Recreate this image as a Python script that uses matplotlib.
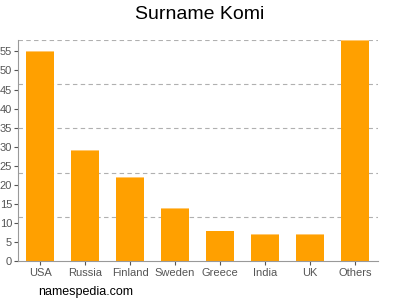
import matplotlib
matplotlib.use('Agg')
import matplotlib.pyplot as plt
import numpy as np

countries = ['USA', 'Russia', 'Finland', 'Sweden', 'Greece', 'India', 'UK', 'Others']
counts = [55, 29, 22, 14, 8, 7, 7, 58]
yticks = list(range(0, 60, 5))

plt.rcParams['font.family'] = ['Liberation Sans', 'DejaVu Sans']

fig = plt.figure(figsize=(4, 3), dpi=100)
ax = fig.add_axes([0.044, 0.13, 0.9, 0.7367])

x = np.arange(len(countries))
ax.bar(x, counts, width=0.62, color='#FFA000', zorder=2)
ax.bar(x, [0.25] * len(counts), bottom=np.array(counts) - 0.25, width=0.62,
       color='#FFC870', zorder=3)

ax.set_xlim(-0.5, len(countries) - 0.5)
ax.set_ylim(0, 58)
ax.set_yticks(yticks)
ax.set_yticks([58 / 5 * k for k in range(1, 6)], minor=True)
ax.grid(which='minor', axis='y', color='#b0b0b0', linestyle=(0, (4, 3)), linewidth=0.8, zorder=0)
ax.tick_params(axis='y', which='minor', length=0)
ax.tick_params(axis='y', which='major', labelsize=8, colors='#555555', length=3, pad=1)
ax.tick_params(axis='x', labelsize=8, colors='#555555', length=3, pad=2)
ax.set_xticks(x)
ax.set_xticklabels(countries)

for s in ['top', 'right']:
    ax.spines[s].set_visible(False)
for s in ['left', 'bottom']:
    ax.spines[s].set_color('#999999')

fig.text(0.5, 0.953, 'Surname Komi', ha='center', va='center', fontsize=14)
fig.text(0.095, 0.027, 'namespedia.com', ha='left', va='center', fontsize=9)

fig.savefig('out.png', dpi=100)
